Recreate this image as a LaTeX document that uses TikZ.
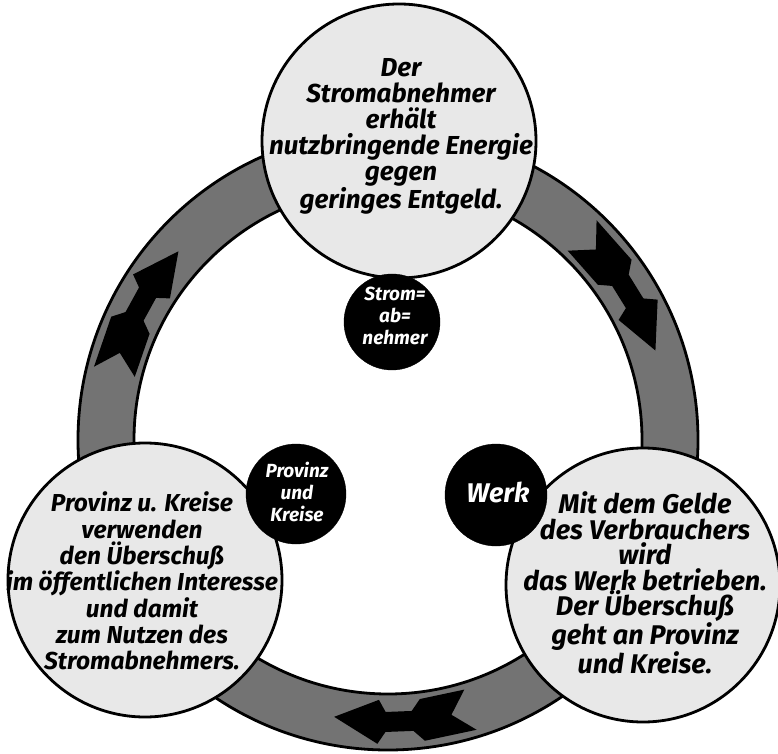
\documentclass[tikz,border=0pt]{standalone}
\usepackage{fontspec}
\setmainfont{Fira Sans}
\begin{document}
\begin{tikzpicture}[x=1pt,y=1pt,
  ringfill/.style={fill=black!55},
  outline/.style={draw=black, line width=2.8pt},
  bigcircle/.style={circle, outline, fill=black!9, minimum size=274pt, inner sep=0pt},
  blackdot/.style={circle, fill=black, draw=black, inner sep=0pt},
  bigtext/.style={align=center, inner sep=0pt},
  dottext/.style={align=center, inner sep=0pt, text=white, font=\bfseries\itshape\fontsize{19}{22}\selectfont},
  arrowfill/.style={fill=black}]
\useasboundingbox (0,0) rectangle (778,753);
\fill[white] (0,0) rectangle (778,753);
\coordinate (C) at (388,313);
% ring
\fill[ringfill, even odd rule] (C) circle[radius=310pt] (C) circle[radius=254pt];
\draw[line width=2.8pt] (C) circle[radius=310pt] (C) circle[radius=254pt];
% arrows on the ring (clockwise)
\begin{scope}[shift={(388,313)}]
\foreach \t in {166,46.5,-73}{
  \fill[arrowfill] ({\t-28}:282) -- ({\t-19}:304) -- ({\t-17.5}:292) -- ({\t-12}:292)
    -- ({\t-10}:303) -- ({\t}:303) -- ({\t-4}:282) -- ({\t}:261) -- ({\t-10}:261)
    -- ({\t-12}:272) -- ({\t-17.5}:272) -- ({\t-19}:260) -- cycle;
}
\end{scope}
% white circles
\node[bigcircle] (top) at (399,612) {};
\node[bigcircle] (left) at (145,173) {};
\node[bigcircle] (right) at (643,168) {};
% black dots
\node[blackdot, minimum size=96pt] (strom) at (392,431) {};
\node[blackdot, minimum size=100pt] (prov) at (296,259) {};
\node[blackdot, minimum size=102pt] (werk) at (496,258) {};
% texts
\node[bigtext, font=\bfseries\itshape\fontsize{26}{26}\selectfont] (toptext) at (401,617) {Der\\Stromabnehmer\\erhält\\nutzbringende Energie\\gegen\\geringes Entgeld.};
\node[bigtext, font=\bfseries\itshape\fontsize{24.5}{26.3}\selectfont] (lefttext) at (142,172) {Provinz u. Kreise\\verwenden\\den Überschuß\\im öffentlichen Interesse\\und damit\\zum Nutzen des\\Stromabnehmers.};
\node[bigtext, font=\bfseries\itshape\fontsize{27}{25.5}\selectfont] (righttext) at (645,170) {Mit dem Gelde\\des Verbrauchers\\wird\\das Werk betrieben.\\Der Überschuß\\geht an Provinz\\und Kreise.};
\node[dottext] (stromtext) at (395,437) {Strom=\\ab=\\nehmer};
\node[dottext] (provtext) at (297,261) {Provinz\\und\\Kreise};
\node[dottext, font=\bfseries\itshape\fontsize{27}{30}\selectfont] (werktext) at (498,261) {Werk};
\end{tikzpicture}
\end{document}
